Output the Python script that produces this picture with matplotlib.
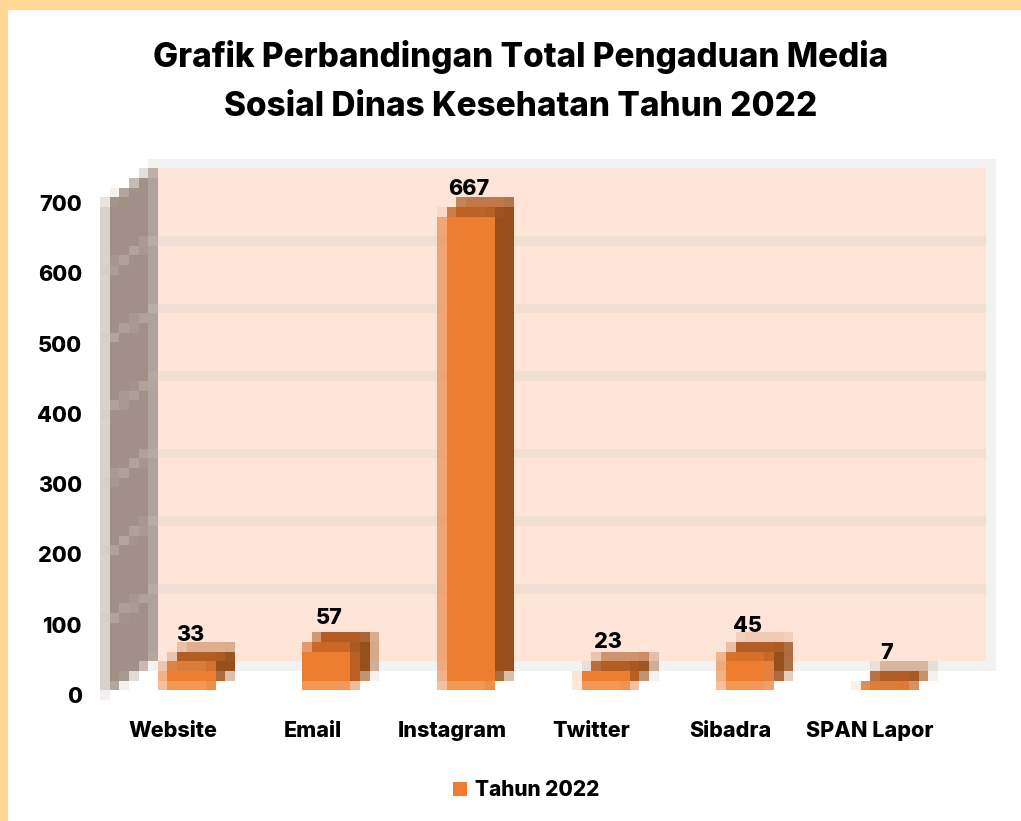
import numpy as np
import matplotlib
matplotlib.use('Agg')
import matplotlib.pyplot as plt
from matplotlib.collections import PolyCollection
from matplotlib.patches import Patch, Rectangle
from matplotlib.path import Path
from matplotlib.transforms import IdentityTransform

plt.rcParams['font.family'] = ['Inter', 'DejaVu Sans']
plt.rcParams['font.weight'] = 'bold'

# data
kategori = ['Website', 'Email', 'Instagram', 'Twitter', 'Sibadra', 'SPAN Lapor']
nilai = [33, 57, 667, 23, 45, 7]
tick_y = [0, 100, 200, 300, 400, 500, 600, 700]
judul = 'Grafik Perbandingan Total Pengaduan Media\nSosial Dinas Kesehatan Tahun 2022'
seri = 'Tahun 2022'

W, H = 1021, 821
SEL_X, SEL_Y = 9.63, 9.67  # the reference is a small picture blown up to cells of this size
AWAL_X, AWAL_Y = 3.7, 3.8

C_FRONT = '#ED7D31'
C_SIDE = '#974F1B'
C_TOP = '#B35D22'
C_WALL = '#A09087'
C_BACK = '#FEE5D8'
C_GRID = '#F2DFD4'
C_EDGE = '#F2F2F2'
TEBAL = 800

fig = plt.figure(figsize=(W / 100, H / 100), dpi=100, facecolor='white')

# orange page border, top and left only
fig.add_artist(Rectangle((0, 1 - 10 / H), 1, 10 / H, transform=fig.transFigure, color='#FFD898', lw=0))
fig.add_artist(Rectangle((0, 0), 8 / W, 1, transform=fig.transFigure, color='#FFD898', lw=0))

fig.text(521 / W, 1 - 81 / H, judul, ha='center', va='center', fontsize=24,
         fontweight=TEBAL, color='black', linespacing=1.68)


def kotak(ax_left, ax_right, img_top, img_bottom):
    return [ax_left / W, 1 - img_bottom / H, (ax_right - ax_left) / W, (img_bottom - img_top) / H]


# axes holding the tick scale: 0 at y=694, 700 at y=203
ax = fig.add_axes(kotak(103.5, 939.9, 203, 695))
ax.set_xlim(-0.5, 5.5)
ax.set_ylim(0, 700)
ax.patch.set_alpha(0)
for s in ax.spines.values():
    s.set_visible(False)
ax.set_xticks(range(len(kategori)))
ax.set_xticklabels(kategori, fontsize=15.5, fontweight=TEBAL)
ax.set_yticks(tick_y)
ax.set_yticklabels([str(t) for t in tick_y], fontsize=15.5, fontweight=TEBAL)
ax.tick_params(axis='both', length=0)
ax.tick_params(axis='x', pad=18.5)
ax.tick_params(axis='y', pad=15.5)

# front plane of the 3d bars sits a bit off the tick scale: 0 at y=688, 0.71 px per unit
ax_bar = fig.add_axes(kotak(103.5, 939.9, 688 - 700 * 0.71, 688))
ax_bar.set_xlim(-0.5, 5.5)
ax_bar.set_ylim(0, 700)
ax_bar.axis('off')

xe = np.round(AWAL_X + np.arange(107) * SEL_X)
ye = np.round(AWAL_Y + np.arange(86) * SEL_Y)


def blok(xs, ys, warna, z):
    """Draw a polygon (image pixels) as blown up cells, alpha = how much of the cell it covers"""
    path = Path(np.column_stack([xs, ys]))
    sub = (np.arange(5) + 0.5) / 5
    polys, fc = [], []
    rgb = matplotlib.colors.to_rgb(warna)
    for i in range(len(xe) - 1):
        if xe[i + 1] < min(xs) or xe[i] > max(xs):
            continue
        for j in range(len(ye) - 1):
            if ye[j + 1] < min(ys) or ye[j] > max(ys):
                continue
            gx, gy = np.meshgrid(xe[i] + sub * (xe[i + 1] - xe[i]), ye[j] + sub * (ye[j + 1] - ye[j]))
            cov = path.contains_points(np.column_stack([gx.ravel(), gy.ravel()])).mean()
            if cov > 0.05:
                polys.append([(xe[i], H - ye[j]), (xe[i + 1], H - ye[j]),
                              (xe[i + 1], H - ye[j + 1]), (xe[i], H - ye[j + 1])])
                fc.append((*rgb, cov))
    fig.add_artist(PolyCollection(polys, facecolors=fc, linewidths=0, antialiased=False,
                                  transform=IdentityTransform(), zorder=z))


def rect(x0, x1, y0, y1, warna, z):
    blok([x0, x1, x1, x0], [y0, y0, y1, y1], warna, z)


def ke_img(a, x, y):
    p = a.transData.transform((x, y))
    return p[0], H - p[1]


fig.canvas.draw()

# back wall with its light edge, gridlines are the ticks pushed back by the depth
DX_WALL, DY_WALL = 50, 36
rect(149, 996, 158, 671, C_EDGE, 1)
rect(158, 986, 168, 661, C_BACK, 2)
for t in tick_y[1:-1]:
    _, yy = ke_img(ax, 0, t)
    j = np.searchsorted(ye, yy - DY_WALL + 2) - 1
    rect(158, 986, ye[j], ye[j + 1], C_GRID, 3)

# side wall
x0, y_bawah = ke_img(ax, -0.5, 0)
x0 += 1.5
_, y_atas = ke_img(ax, -0.5, 700)
blok([x0, x0 + DX_WALL, x0 + DX_WALL, x0],
     [y_atas, y_atas - DY_WALL, y_bawah - DY_WALL, y_bawah], C_WALL, 4)
for t in tick_y[1:-1]:
    _, yy = ke_img(ax, -0.5, t)
    blok([x0, x0 + DX_WALL, x0 + DX_WALL, x0],
         [yy - 2, yy - 2 - DY_WALL, yy + 2 - DY_WALL, yy + 2], '#C8C2BE', 5)

# bars
BAR_L, BAR_R = -11, 42   # front face relative to the category centre, pixels
DX, DY = 19, 16          # depth of the bar
for i, v in enumerate(nilai):
    xc, ybase = ke_img(ax_bar, i, 0)
    _, ytop = ke_img(ax_bar, i, v)
    l, r = xc + BAR_L, xc + BAR_R
    z = 10 + i * 3
    # top and side run on a little behind the front so shared cells do not wash out
    blok([l + 2, r, r + DX, l + DX], [ytop + 5, ytop + 5, ytop - DY, ytop - DY], C_TOP, z)
    blok([r - 5, r + DX, r + DX, r - 5], [ytop, ytop - DY, ybase - DY, ybase - 2], C_SIDE, z + 1)
    rect(l, r, ytop, ybase, C_FRONT, z + 2)

# solid part of the front faces as real bars, same colour as the cells beneath
for i, v in enumerate(nilai):
    xc, ybase = ke_img(ax_bar, i, 0)
    _, ytop = ke_img(ax_bar, i, v)
    ki = xe[np.searchsorted(xe, xc + BAR_L)]
    ka = xe[np.searchsorted(xe, xc + BAR_R) - 1]
    at = ye[np.searchsorted(ye, ytop)]
    ba = ye[np.searchsorted(ye, ybase) - 1]
    if ba > at:
        d = ax_bar.transData.inverted()
        (dl, db), (dr, dt) = d.transform([(ki, H - ba), (ka, H - at)])
        ax_bar.bar(dl, dt - db, width=dr - dl, bottom=db, align='edge', color=C_FRONT,
                   lw=0, antialiased=False, zorder=1)
ax_bar.set_zorder(30)

for i, v in enumerate(nilai):
    ax_bar.annotate(str(v), (i, v), xytext=(12, 21.5 if v < 600 else 18.5), textcoords='offset points',
                    ha='center', va='center', fontsize=15.5, fontweight=TEBAL, color='black', zorder=40)

leg = fig.legend(handles=[Patch(color=C_FRONT, label=seri, lw=0)], loc='center',
                 bbox_to_anchor=(526.5 / W, 1 - 790 / H), frameon=False,
                 prop={'size': 15, 'weight': TEBAL},
                 handlelength=0.68, handleheight=0.68, handletextpad=0.38)

fig.savefig('out.png', dpi=100)
